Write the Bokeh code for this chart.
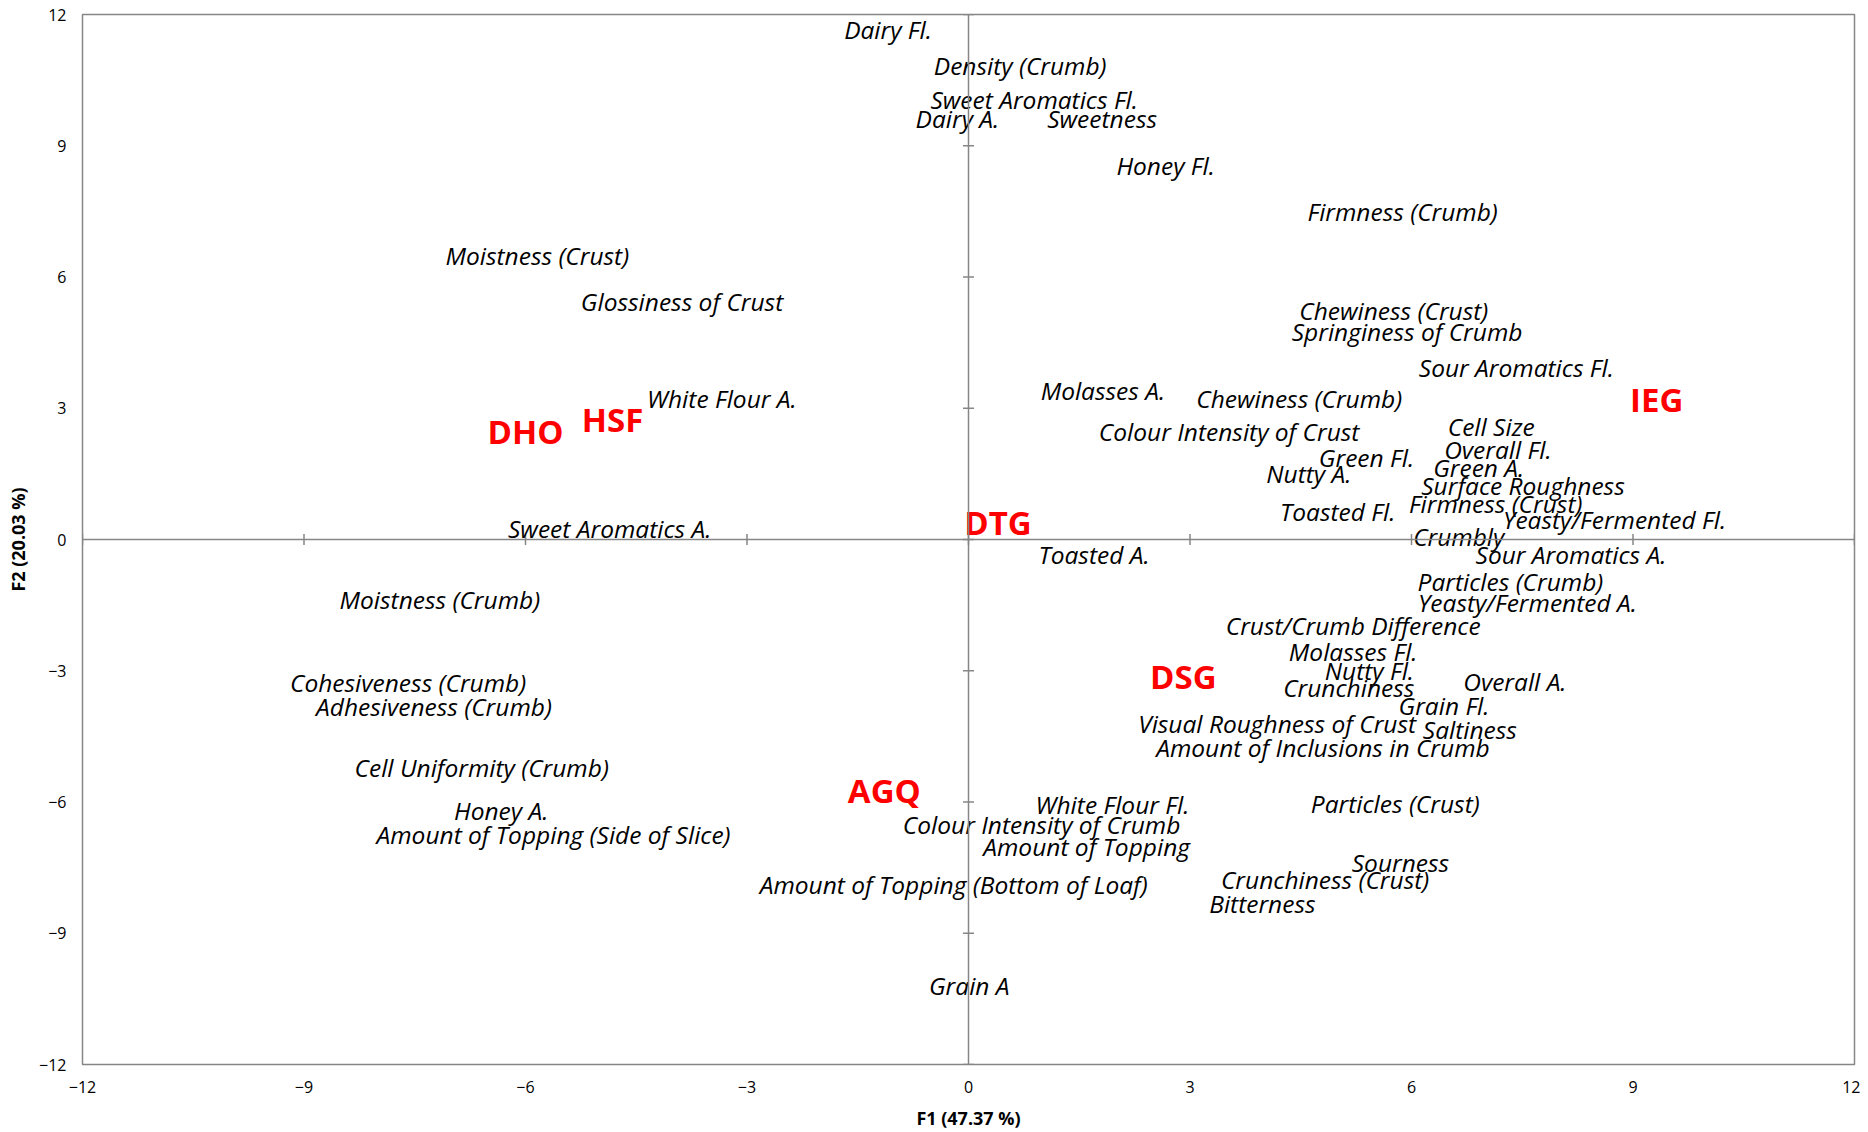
import math
from bokeh.plotting import figure
from bokeh.models import ColumnDataSource, FixedTicker, Span
from bokeh.core.properties import value
from bokeh.embed import file_html
from bokeh.resources import INLINE

# Sensory attributes (variables) on F1/F2
attributes = [
    "Dairy Fl.", "Density (Crumb)", "Sweet Aromatics Fl.", "Dairy A.", "Sweetness",
    "Honey Fl.", "Firmness (Crumb)", "Moistness (Crust)", "Glossiness of Crust",
    "Chewiness (Crust)", "Springiness of Crumb", "Sour Aromatics Fl.", "White Flour A.",
    "Molasses A.", "Chewiness (Crumb)", "Colour Intensity of Crust", "Cell Size",
    "Overall Fl.", "Green Fl.", "Green A.", "Nutty A.", "Surface Roughness",
    "Firmness (Crust)", "Toasted Fl.", "Yeasty/Fermented Fl.", "Crumbly",
    "Sweet Aromatics A.", "Toasted A.", "Sour Aromatics A.", "Particles (Crumb)",
    "Yeasty/Fermented A.", "Moistness (Crumb)", "Crust/Crumb Difference",
    "Molasses Fl.", "Nutty Fl.", "Crunchiness", "Overall A.", "Cohesiveness (Crumb)",
    "Grain Fl.", "Adhesiveness (Crumb)", "Visual Roughness of Crust", "Saltiness",
    "Amount of Inclusions in Crumb", "Cell Uniformity  (Crumb)", "White Flour Fl.",
    "Particles (Crust)", "Honey A.", "Colour Intensity of Crumb",
    "Amount of Topping (Side of Slice)", "Amount of Topping", "Sourness",
    "Amount of Topping (Bottom of Loaf)", "Crunchiness (Crust)", "Bitterness", "Grain A",
]
attr_f1 = [
    -1.09, 0.70, 0.89, -0.15, 1.81,
    2.67, 5.88, -5.84, -3.88,
    5.76, 5.94, 7.42, -3.34,
    1.82, 4.48, 3.53, 7.08,
    7.17, 5.39, 6.91, 4.61, 7.51,
    7.14, 5.00, 8.75, 6.64,
    -4.86, 1.70, 8.16, 7.34,
    7.57, -7.16, 5.21,
    5.21, 5.43, 5.15, 7.40, -7.59,
    6.44, -7.24, 4.18, 6.79,
    4.80, -6.55, 1.95,
    5.78, -6.33, 0.99,
    -5.62, 1.60, 5.85,
    -0.20, 4.83, 3.98, 0.01,
]
attr_f2 = [
    11.65, 10.83, 10.06, 9.63, 9.63,
    8.56, 7.50, 6.49, 5.45,
    5.24, 4.75, 3.93, 3.22,
    3.41, 3.22, 2.48, 2.59,
    2.05, 1.88, 1.64, 1.50, 1.23,
    0.82, 0.65, 0.46, 0.08,
    0.25, -0.35, -0.35, -0.95,
    -1.45, -1.36, -1.96,
    -2.56, -3.00, -3.38, -3.25, -3.27,
    -3.79, -3.82, -4.20, -4.34,
    -4.75, -5.21, -6.05,
    -6.03, -6.19, -6.52,
    -6.74, -7.01, -7.39,
    -7.88, -7.77, -8.32, -10.20,
]

# Products (observations)
products = ["DHO", "HSF", "IEG", "DTG", "DSG", "AGQ"]
prod_f1 = [-6.00, -4.82, 9.32, 0.40, 2.91, -1.14]
prod_f2 = [2.48, 2.75, 3.19, 0.38, -3.14, -5.73]

ticks = [-12, -9, -6, -3, 0, 3, 6, 9, 12]
x_title = "F1 (47.37 %)"
y_title = "F2 (20.03 %)"

GRAY = "#868686"
FONT = "Open Sans"

p = figure(width=1860, height=1132, x_range=(-12, 12), y_range=(-12, 12),
           output_backend="svg", toolbar_location=None,
           min_border_left=82, min_border_right=6, min_border_top=14,
           min_border_bottom=67)
p.grid.visible = False
p.outline_line_color = GRAY
p.outline_line_width = 1.5
p.background_fill_color = "white"

for ax in (p.xaxis[0], p.yaxis[0]):
    ax.ticker = FixedTicker(ticks=ticks)
    ax.axis_line_color = None
    ax.major_tick_line_color = None
    ax.major_tick_in = 0
    ax.major_tick_out = 0
    ax.minor_tick_line_color = None
    ax.minor_tick_in = 0
    ax.minor_tick_out = 0
    ax.major_label_text_font = FONT
    ax.major_label_text_font_size = "16px"
    ax.major_label_text_color = "black"
    ax.axis_label_text_font = FONT
    ax.axis_label_text_font_style = "bold"
    ax.axis_label_text_font_size = "18px"
    ax.axis_label_text_color = "black"
p.xaxis.axis_label = x_title
p.yaxis.axis_label = y_title
p.xaxis.major_label_standoff = 16
p.yaxis.major_label_standoff = 16
p.xaxis.axis_label_standoff = 10
p.yaxis.axis_label_standoff = 6

# axes through the origin
p.add_layout(Span(location=0, dimension="width", line_color=GRAY, line_width=1.5))
p.add_layout(Span(location=0, dimension="height", line_color=GRAY, line_width=1.5))
zeros = [0] * len(ticks)
p.scatter(x=ticks, y=zeros, marker="dash", size=11, angle=math.pi / 2,
          line_color=GRAY, line_width=1.5)
p.scatter(x=zeros, y=ticks, marker="dash", size=11,
          line_color=GRAY, line_width=1.5)

src_a = ColumnDataSource(dict(x=attr_f1, y=attr_f2, t=attributes))
p.text(x="x", y="y", text="t", source=src_a, text_align="center",
       text_baseline="middle", text_font=value(FONT), text_font_style="italic",
       text_font_size="24.5px", text_color="black")

src_p = ColumnDataSource(dict(x=prod_f1, y=prod_f2, t=products))
p.text(x="x", y="y", text="t", source=src_p, text_align="center",
       text_baseline="middle", text_font=value(FONT), text_font_style="bold",
       text_font_size="33px", text_color="#ff0000")

open("out.html", "w").write(file_html(p, INLINE))
